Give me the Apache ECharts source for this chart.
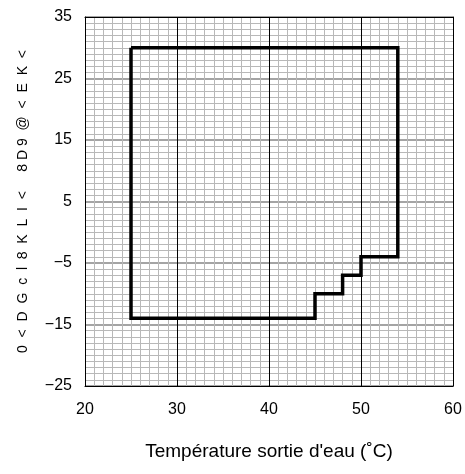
<!DOCTYPE html>
<html>
<head>
<meta charset="utf-8">
<script src="https://cdn.jsdelivr.net/npm/echarts@6/dist/echarts.min.js"></script>
<style>
  html, body { margin: 0; padding: 0; background: #fff; }
  #chart { width: 465px; height: 474px; }
</style>
</head>
<body>
<div id="chart"></div>
<script>
// operating envelope: water outlet temperature vs ambient
const boundaryTemp = [25, 54, 54, 50, 50, 48, 48, 45, 45, 25, 25];
const boundaryAmbient = [30, 30, -4, -4, -7, -7, -10, -10, -14, -14, 30];

const xTicks = [20, 30, 40, 50, 60];
const yTicks = [-25, -15, -5, 5, 15, 25, 35];

const xTitle = "Température sortie d'eau (˚C)";
const yTitle = "0  <  D  G  c  l  8  K  L  I  <     8 D 9  @  <  E  K  <";

const tickFont = "'Liberation Sans Narrow', 'Liberation Sans', Arial, sans-serif";
const textFont = "'Liberation Sans', Arial, sans-serif";

let myChart = echarts.init(document.getElementById('chart'));

let minus = v => String(v).replace('-', '\u2212');

let options = {
  animation: false,
  grid: {
    left: 85,
    right: 12,
    top: 17,
    bottom: 88
  },
  xAxis: [
    {
      type: 'value',
      min: xTicks[0],
      max: xTicks[xTicks.length - 1],
      interval: 10,
      name: xTitle,
      nameLocation: 'middle',
      nameGap: 56,
      nameTextStyle: { fontSize: 19, color: '#000', fontFamily: textFont },
      axisLine: { show: true, onZero: false, lineStyle: { color: '#000', width: 1 } },
      axisTick: { show: false },
      axisLabel: { margin: 16, fontSize: 16, color: '#000', fontFamily: tickFont },
      splitLine: { show: true, lineStyle: { color: '#000', width: 1 } },
      minorTick: { show: false, splitNumber: 10 },
      minorSplitLine: { show: true, lineStyle: { color: '#b8b8b8', width: 1 } }
    },
    {
      type: 'value',
      position: 'top',
      min: xTicks[0],
      max: xTicks[xTicks.length - 1],
      interval: 10,
      axisLine: { show: true, onZero: false, lineStyle: { color: '#000', width: 1 } },
      axisTick: { show: false },
      axisLabel: { show: false },
      splitLine: { show: false }
    }
  ],
  yAxis: [
    {
      type: 'value',
      min: yTicks[0],
      max: yTicks[yTicks.length - 1],
      interval: 10,
      name: yTitle,
      nameLocation: 'middle',
      nameRotate: 90,
      nameGap: 55,
      nameTextStyle: { fontSize: 14, color: '#000', fontFamily: textFont },
      axisLine: { show: true, onZero: false, lineStyle: { color: '#000', width: 1 } },
      axisTick: { show: false },
      axisLabel: { margin: 13, fontSize: 16, color: '#000', fontFamily: tickFont, formatter: minus },
      splitLine: { show: true, lineStyle: { color: '#a4a4a4', width: 2 } },
      minorTick: { show: false, splitNumber: 10 },
      minorSplitLine: { show: true, lineStyle: { color: '#b8b8b8', width: 1 } }
    },
    {
      type: 'value',
      position: 'right',
      min: yTicks[0],
      max: yTicks[yTicks.length - 1],
      interval: 10,
      axisLine: { show: true, onZero: false, lineStyle: { color: '#000', width: 1 } },
      axisTick: { show: false },
      axisLabel: { show: false },
      splitLine: { show: false }
    }
  ],
  series: [
    {
      type: 'line',
      data: boundaryTemp.map((t, i) => [t, boundaryAmbient[i]]),
      showSymbol: false,
      symbol: 'none',
      lineStyle: { color: '#000', width: 3.5, join: 'miter' },
      z: 5
    }
  ]
};

myChart.setOption(options);
</script>
</body>
</html>
